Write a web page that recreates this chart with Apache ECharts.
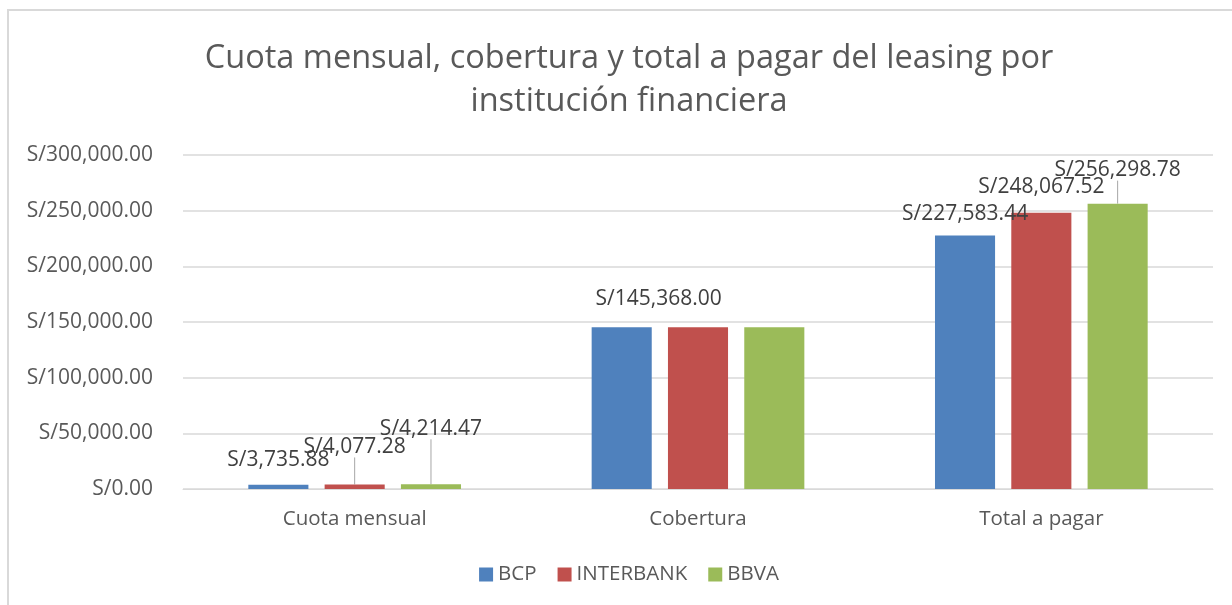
<!DOCTYPE html>
<html>
<head>
<meta charset="utf-8">
<script src="https://cdn.jsdelivr.net/npm/echarts@6/dist/echarts.min.js"></script>
<style>
	html, body { margin: 0; padding: 0; background: #fff; overflow: hidden; }
	#chart {
		position: absolute; left: 7px; top: 9px;
		width: 1240px; height: 594px;
		border-top: 2px solid #d9d9d9; border-left: 2px solid #d9d9d9;
	}
</style>
</head>
<body>
<div id="chart"></div>
<script>
const categories = ['Cuota mensual', 'Cobertura', 'Total a pagar']
const seriesNames = ['BCP', 'INTERBANK', 'BBVA']
const bcp       = [3735.88, 145368.00, 227583.44]
const interbank = [4077.28, 145368.00, 248067.52]
const bbva      = [4214.47, 145368.00, 256298.78]
const yTicks    = [0, 50000, 100000, 150000, 200000, 250000, 300000]

const values = [bcp, interbank, bbva]
const colors = ['#4f81bd', '#c0504d', '#9bbb59']

// label nudges, [series][category] -> [dx, dy, leader line]; null = no label
const nudges = [
	[[0, -9, false], [37, -13, false], [0, -6, false]],
	[[0, -22, true], null, [0, -10, false]],
	[[0, -40, true], null, [0, -18, true]]
]

const money = v => 'S/' + v.toLocaleString('en-US', { minimumFractionDigits: 2, maximumFractionDigits: 2 })
const font = 'Open Sans'

const chart = echarts.init(document.querySelector('#chart'))
chart.setOption({
	animation: false,
	title: {
		text: 'Cuota mensual, cobertura y total a pagar del leasing por\ninstitución financiera',
		left: 'center',
		top: 21,
		textStyle: { fontFamily: font, fontSize: 32.5, fontWeight: 'normal', color: '#595959', lineHeight: 43 }
	},
	legend: {
		bottom: 15,
		left: 'center',
		itemWidth: 14,
		itemHeight: 14,
		itemGap: 21,
		icon: 'rect',
		textStyle: { fontFamily: font, fontSize: 20.5, color: '#595959' },
		data: seriesNames
	},
	grid: { left: 174, right: 36, top: 144, bottom: 116 },
	xAxis: {
		type: 'category',
		data: categories,
		axisLine: { lineStyle: { color: '#d9d9d9' } },
		axisTick: { show: false },
		axisLabel: { fontFamily: font, fontSize: 20.5, color: '#595959', margin: 20 }
	},
	yAxis: {
		type: 'value',
		min: yTicks[0],
		max: yTicks[yTicks.length - 1],
		interval: yTicks[1] - yTicks[0],
		axisLine: { show: false },
		axisTick: { show: false },
		splitLine: { lineStyle: { color: '#d9d9d9', width: 1.5 } },
		axisLabel: { fontFamily: font, fontSize: 21, color: '#595959', margin: 30, formatter: money }
	},
	series: seriesNames.map((name, s) => ({
		name: name,
		type: 'bar',
		barWidth: '17.5%',
		barGap: '27%',
		itemStyle: { color: colors[s] },
		label: {
			show: true,
			position: 'top',
			fontFamily: font,
			fontSize: 21,
			color: '#404040',
			formatter: p => money(p.value)
		},
		labelLine: { show: true, lineStyle: { color: '#a6a6a6', width: 1 } },
		labelLayout: p => {
			const n = nudges[s][p.dataIndex]
			return n ? { dx: n[0], dy: n[1] } : {}
		},
		data: values[s].map((v, i) => {
			const n = nudges[s][i]
			if (!n) return { value: v, label: { show: false }, labelLine: { show: false } }
			return { value: v, labelLine: { show: n[2] } }
		})
	}))
})
</script>
</body>
</html>
